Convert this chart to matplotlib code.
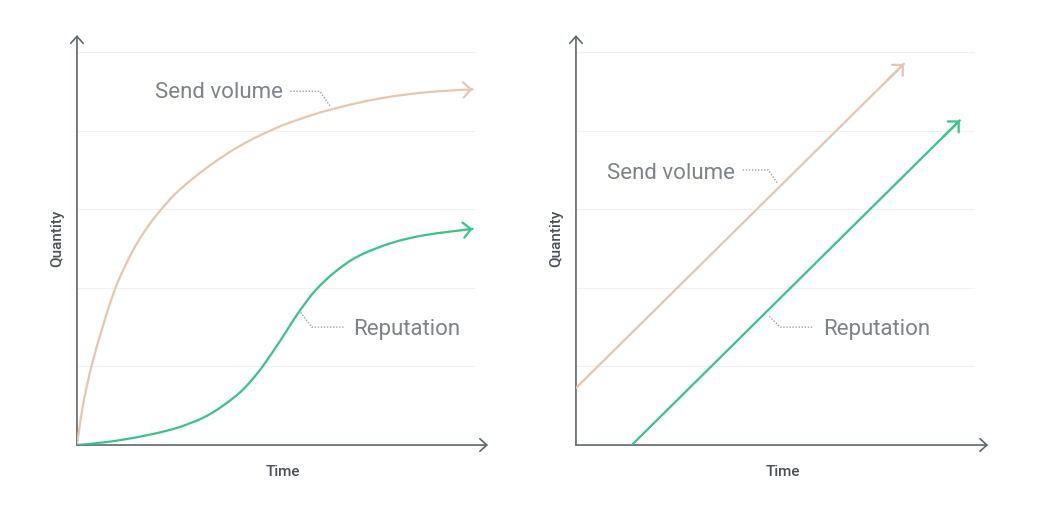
import matplotlib.pyplot as plt
from matplotlib.path import Path
from matplotlib.patches import PathPatch

plt.rcParams['font.family'] = ['Roboto', 'DejaVu Sans']

# values (x: time, y: quantity, both in grid units)
growth_time = [0.0, 0.059, 0.122, 0.205, 0.31, 0.415, 0.52, 0.69, 0.85, 1.02,
               1.23, 1.48, 1.73, 1.98, 2.24, 2.59, 2.93, 3.18, 3.56, 3.93,
               4.31, 4.69, 4.97]
growth_volume = [0.0, 0.41, 0.74, 1.09, 1.46, 1.80, 2.09, 2.45, 2.72, 2.95,
                 3.19, 3.41, 3.60, 3.765, 3.91, 4.07, 4.19, 4.265, 4.36, 4.43,
                 4.48, 4.51, 4.525]

rep_time = [0.0, 0.39, 0.81, 1.23, 1.57, 1.82, 2.07, 2.28, 2.45, 2.62, 2.78,
            2.99, 3.24, 3.53, 3.95, 4.37, 4.97]
rep_value = [0.0, 0.04, 0.11, 0.21, 0.34, 0.49, 0.69, 0.93, 1.17, 1.43, 1.68,
             1.96, 2.20, 2.40, 2.57, 2.67, 2.75]

lin_volume_time = [0.0, 4.11]
lin_volume = [0.725, 4.85]
lin_rep_time = [0.70, 4.81]
lin_rep = [0.0, 4.13]

GRID = [1, 2, 3, 4, 5]

SAND = '#e6c6ae'
GREEN = '#38c38b'
AXIS = '#5f6670'
TEXT = '#7d828b'
LABEL = '#4b5059'


def smooth_path(x, y):
    # catmull-rom style bezier through the read points, just for rendering
    pts = list(zip(x, y))
    verts = [pts[0]]
    codes = [Path.MOVETO]
    n = len(pts)
    for i in range(n - 1):
        p0 = pts[i - 1] if i > 0 else pts[i]
        p1 = pts[i]
        p2 = pts[i + 1]
        p3 = pts[i + 2] if i + 2 < n else pts[i + 1]
        c1 = (p1[0] + (p2[0] - p0[0]) / 6, p1[1] + (p2[1] - p0[1]) / 6)
        c2 = (p2[0] - (p3[0] - p1[0]) / 6, p2[1] - (p3[1] - p1[1]) / 6)
        verts += [c1, c2, p2]
        codes += [Path.CURVE4] * 3
    return Path(verts, codes)


def draw_series(ax, x, y, color):
    if len(x) > 2:
        ax.add_patch(PathPatch(smooth_path(x, y), fill=False, edgecolor=color,
                               lw=1.6, capstyle='round', zorder=3))
    else:
        ax.plot(x, y, color=color, lw=1.6, solid_capstyle='round', zorder=3)
    ax.annotate('', xy=(x[-1], y[-1]),
                xytext=(x[-1] - (x[-1] - x[-2]) * 0.05,
                        y[-1] - (y[-1] - y[-2]) * 0.05),
                arrowprops=dict(arrowstyle='->,head_length=0.55,head_width=0.55',
                                color=color, lw=1.6, mutation_scale=10,
                                shrinkA=0, shrinkB=0), zorder=3)


def label(ax, text, pos, leader):
    ax.text(pos[0], pos[1], text, fontsize=16, color=TEXT, fontweight='normal',
            va='center', ha='left')
    xs = [p[0] for p in leader]
    ys = [p[1] for p in leader]
    ax.plot(xs, ys, color='#9aa0a8', lw=1.0, ls=(0, (1, 1.2)), zorder=2)


def setup(ax):
    ax.set_xlim(0, 5)
    ax.set_ylim(0, 5)
    for s in ax.spines.values():
        s.set_visible(False)
    ax.set_yticks(GRID)
    ax.set_xticks([])
    ax.tick_params(length=0, labelleft=False)
    ax.grid(axis='y', color='#f1f1f1', lw=0.8)
    ax.set_axisbelow(True)
    arrow = dict(arrowstyle='->,head_length=0.5,head_width=0.45', color=AXIS,
                 lw=1.2, mutation_scale=10, shrinkA=0, shrinkB=0)
    ax.annotate('', xy=(0, 1.043), xytext=(0, 0), xycoords='axes fraction',
                arrowprops=arrow, annotation_clip=False)
    ax.annotate('', xy=(1.033, 0), xytext=(0, 0), xycoords='axes fraction',
                arrowprops=arrow, annotation_clip=False)
    ax.text(0.518, -0.069, 'Time', transform=ax.transAxes, ha='center',
            va='center', fontsize=11, color=LABEL, fontweight='medium')
    ax.text(-0.05, 0.527, 'Quantity', transform=ax.transAxes, ha='center',
            va='center', rotation=90, fontsize=11, color=LABEL,
            fontweight='medium')


fig = plt.figure(figsize=(10.47, 5.14), dpi=100)
ax1 = fig.add_axes([0.0735, 0.1342, 0.3801, 0.7646])
ax2 = fig.add_axes([0.5501, 0.1342, 0.3811, 0.7646])

setup(ax1)
draw_series(ax1, growth_time, growth_volume, SAND)
draw_series(ax1, rep_time, rep_value, GREEN)
label(ax1, 'Send volume', (0.98, 4.48), [(2.68, 4.50), (3.05, 4.50), (3.19, 4.30)])
label(ax1, 'Reputation', (3.47, 1.47), [(3.35, 1.50), (2.95, 1.50), (2.80, 1.70)])

setup(ax2)
draw_series(ax2, lin_volume_time, lin_volume, SAND)
draw_series(ax2, lin_rep_time, lin_rep, GREEN)
label(ax2, 'Send volume', (0.39, 3.46), [(2.09, 3.50), (2.41, 3.50), (2.53, 3.32)])
label(ax2, 'Reputation', (3.10, 1.47), [(2.96, 1.50), (2.56, 1.50), (2.41, 1.65)])

fig.savefig('out.png', dpi=100, facecolor='white')
